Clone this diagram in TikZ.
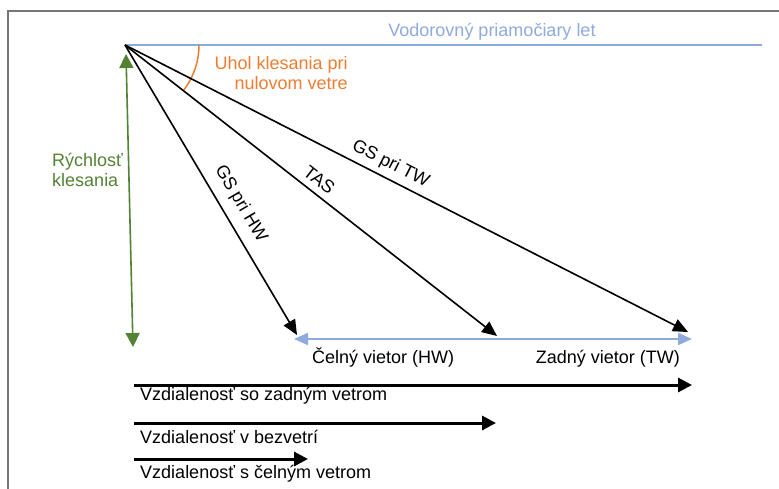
\documentclass[tikz,border=0pt]{standalone}
\usepackage{fontspec}
\setmainfont{Liberation Sans}
\usetikzlibrary{arrows.meta}

\begin{document}
\begin{tikzpicture}[x=1pt,y=-1pt,
	every node/.style={font=\fontsize{18}{20.5}\selectfont},
	vec/.style={black,line width=1.6pt,-{Triangle[length=15pt,width=13pt]}},
	dist/.style={black,line width=3pt,-{Triangle[length=14pt,width=14pt]}},
	wind/.style={lightblue,line width=2pt,{Triangle[length=14pt,width=12pt]}-{Triangle[length=14pt,width=12pt]}},
	sink/.style={darkgreen,line width=1.6pt,{Triangle[length=14pt,width=14pt]}-{Triangle[length=14pt,width=14pt]}}]
	\definecolor{lightblue}{RGB}{143,170,220}
	\definecolor{darkgreen}{RGB}{84,130,53}
	\definecolor{orange1}{RGB}{237,125,49}
	\definecolor{framegray}{RGB}{118,118,118}

	\useasboundingbox (0,0) rectangle (779,489);
	\draw[framegray,line width=1.5pt] (8,489) -- (8,11) -- (779,11);

	\coordinate (apex) at (125,45);
	\coordinate (level) at (762,45);
	\coordinate (hw) at (294,339);
	\coordinate (tw) at (692,339);
	\coordinate (hwtip) at (297,335);
	\coordinate (tastip) at (497,336);
	\coordinate (twtip) at (688,332);
	\coordinate (sinktop) at (126,54);
	\coordinate (sinkbot) at (133,347);

	\draw[lightblue,line width=2pt] (apex) -- (level);
	\draw[orange1,line width=1.5pt] ([shift={(74,0)}]apex) arc[start angle=0,end angle=38,radius=74];
	\draw[sink] (sinktop) -- (sinkbot);
	\draw[wind] (hw) -- (tw);

	\draw[vec] (apex) -- node[above=6pt,sloped,pos=0.58] (gshw) {GS pri HW} (hwtip);
	\draw[vec] (apex) -- node[above=3pt,sloped,pos=0.5] (tas) {TAS} (tastip);
	\draw[vec] (apex) -- node[above=2pt,sloped,pos=0.46] (gstw) {GS pri TW} (twtip);

	\node[lightblue] (levellbl) at (492,32) {Vodorovný priamočiary let};
	\node[orange1,align=right,anchor=east] (anglelbl) at (351.3,73) {Uhol klesania pri\\nulovom vetre};
	\node[darkgreen,align=left,anchor=west] (sinklbl) at (48.7,170) {Rýchlosť\\klesania};
	\node[anchor=west] (hwlbl) at (308.7,358) {Čelný vietor (HW)};
	\node[anchor=east] (twlbl) at (683.3,359) {Zadný vietor (TW)};

	\coordinate (d1s) at (134,385);
	\coordinate (d1e) at (692,385);
	\coordinate (d2s) at (134,423);
	\coordinate (d2e) at (496,423);
	\coordinate (d3s) at (134,459);
	\coordinate (d3e) at (308,459);
	\draw[dist] (d1s) -- (d1e);
	\draw[dist] (d2s) -- (d2e);
	\draw[dist] (d3s) -- (d3e);
	\node[anchor=west] (d1lbl) at (136.7,396) {Vzdialenosť so zadným vetrom};
	\node[anchor=west] (d2lbl) at (136.7,437) {Vzdialenosť v bezvetrí};
	\node[anchor=west] (d3lbl) at (136.7,474) {Vzdialenosť s čelným vetrom};
\end{tikzpicture}
\end{document}
